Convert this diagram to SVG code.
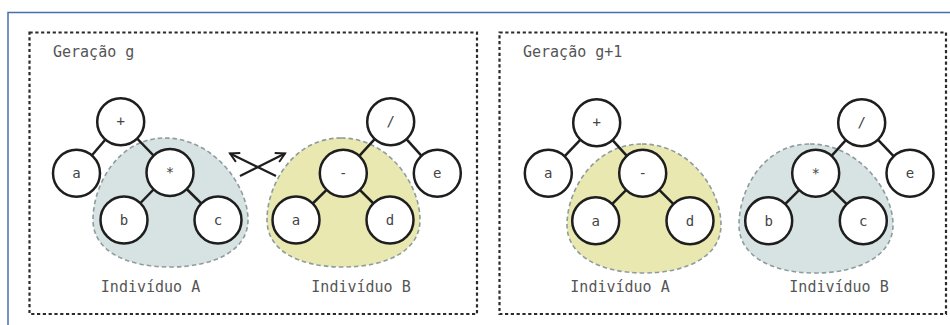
<svg xmlns="http://www.w3.org/2000/svg" width="950" height="325" viewBox="0 0 950 325">
<defs>
<style>
.frame{fill:none;stroke:#4a6db0;stroke-width:1.5}
.box{fill:none;stroke:#2a2a2a;stroke-width:2.2;stroke-dasharray:3.2 2.6}
.title{font-family:"DejaVu Sans Mono","Liberation Mono",monospace;font-size:15px;fill:#555}
.blobA{fill:#d6e3e2;stroke:#8e9c9e;stroke-width:1.6;stroke-dasharray:4.5 3}
.blobB{fill:#e8e8b0;stroke:#8e9c9e;stroke-width:1.6;stroke-dasharray:4.5 3}
.edge{stroke:#1e1e1e;stroke-width:2.5;fill:none}
.node circle{fill:#fff;stroke:#1e1e1e;stroke-width:2.5}
.node text{font-family:"DejaVu Sans Mono","Liberation Mono",monospace;font-size:14px;fill:#444;text-anchor:middle}
.arrow{stroke:#1e1e1e;stroke-width:2.2;fill:none}
</style>
<marker id="ah" viewBox="0 0 12 12" refX="10" refY="6" markerWidth="12" markerHeight="12" markerUnits="userSpaceOnUse" orient="auto">
<path d="M1,1 L10,6 L1,11" fill="none" stroke="#1e1e1e" stroke-width="2"/>
</marker>
<symbol id="none"/>
</defs>
<path class="frame" d="M8,325 V12.5 H950"/>
<g id="box-g">
<rect class="box" x="29.5" y="32.5" width="447.5" height="281.5"/>
<text class="title" x="53" y="57">Geração g</text>
</g>
<g id="box-g1">
<rect class="box" x="499.5" y="32.5" width="446.5" height="281.5"/>
<text class="title" x="523" y="57">Geração g+1</text>
</g>
<g id="blobs">
<path id="blob-g-A" class="blobA" d="M165,138 C213,138 248,185 248,220 C248,250 215,267 170,267 C125,267 93,250 93,220 C93,185 118,138 165,138 Z"/>
<path id="blob-g-B" class="blobB" d="M341,138 C389,138 420,185 420,220 C420,250 388,267 343,267 C298,267 267,250 267,220 C267,185 293,138 341,138 Z"/>
<path id="blob-g1-A" class="blobB" d="M642,144 C690,144 721,190 721,225 C721,255 689,273 644,273 C599,273 567,255 567,225 C567,190 594,144 642,144 Z"/>
<path id="blob-g1-B" class="blobA" d="M810,144 C858,144 893,190 893,225 C893,255 860,273 815,273 C770,273 739,255 739,225 C739,190 763,144 810,144 Z"/>
</g>
<g id="connectors">
<line class="edge" x1="120.7" y1="121.7" x2="76.5" y2="173.3"/>
<line class="edge" x1="120.7" y1="121.7" x2="170" y2="172.5"/>
<line class="edge" x1="170" y1="172.5" x2="124" y2="220"/>
<line class="edge" x1="170" y1="172.5" x2="218" y2="220"/>
<line class="edge" x1="390.7" y1="121.7" x2="343.3" y2="173.3"/>
<line class="edge" x1="390.7" y1="121.7" x2="437.3" y2="173.3"/>
<line class="edge" x1="343.3" y1="173.3" x2="296" y2="220"/>
<line class="edge" x1="343.3" y1="173.3" x2="390" y2="220"/>
<line class="edge" x1="596.7" y1="122.7" x2="548.3" y2="173.3"/>
<line class="edge" x1="596.7" y1="122.7" x2="642.7" y2="173.3"/>
<line class="edge" x1="642.7" y1="173.3" x2="595.7" y2="220.7"/>
<line class="edge" x1="642.7" y1="173.3" x2="690" y2="220.7"/>
<line class="edge" x1="861.7" y1="122.7" x2="815.7" y2="173.3"/>
<line class="edge" x1="861.7" y1="122.7" x2="910" y2="173.3"/>
<line class="edge" x1="815.7" y1="173.3" x2="768.7" y2="220.7"/>
<line class="edge" x1="815.7" y1="173.3" x2="863.3" y2="220.7"/>
<line class="arrow" x1="240" y1="176" x2="285" y2="153.5" marker-end="url(#ah)"/>
<line class="arrow" x1="276" y1="176" x2="230" y2="153.5" marker-end="url(#ah)"/>
</g>
<g id="nodes">
<g id="gA-plus" class="node"><circle cx="120.7" cy="121.7" r="23.5"/><text x="120.7" y="126">+</text></g>
<g id="gA-a" class="node"><circle cx="76.5" cy="173.3" r="23.5"/><text x="76.5" y="178">a</text></g>
<g id="gA-mul" class="node"><circle cx="170" cy="172.5" r="23.5"/><text x="170" y="177">*</text></g>
<g id="gA-b" class="node"><circle cx="124" cy="220" r="23.5"/><text x="124" y="225">b</text></g>
<g id="gA-c" class="node"><circle cx="218" cy="220" r="23.5"/><text x="218" y="225">c</text></g>
<g id="gB-div" class="node"><circle cx="390.7" cy="121.7" r="23.5"/><text x="390.7" y="126">/</text></g>
<g id="gB-minus" class="node"><circle cx="343.3" cy="173.3" r="23.5"/><text x="343.3" y="178">-</text></g>
<g id="gB-e" class="node"><circle cx="437.3" cy="173.3" r="23.5"/><text x="437.3" y="178">e</text></g>
<g id="gB-a" class="node"><circle cx="296" cy="220" r="23.5"/><text x="296" y="225">a</text></g>
<g id="gB-d" class="node"><circle cx="390" cy="220" r="23.5"/><text x="390" y="225">d</text></g>
<g id="g1A-plus" class="node"><circle cx="596.7" cy="122.7" r="23.5"/><text x="596.7" y="127">+</text></g>
<g id="g1A-a" class="node"><circle cx="548.3" cy="173.3" r="23.5"/><text x="548.3" y="178">a</text></g>
<g id="g1A-minus" class="node"><circle cx="642.7" cy="173.3" r="23.5"/><text x="642.7" y="178">-</text></g>
<g id="g1A-a2" class="node"><circle cx="595.7" cy="220.7" r="23.5"/><text x="595.7" y="225.5">a</text></g>
<g id="g1A-d" class="node"><circle cx="690" cy="220.7" r="23.5"/><text x="690" y="225.5">d</text></g>
<g id="g1B-div" class="node"><circle cx="861.7" cy="122.7" r="23.5"/><text x="861.7" y="127">/</text></g>
<g id="g1B-mul" class="node"><circle cx="815.7" cy="173.3" r="23.5"/><text x="815.7" y="178">*</text></g>
<g id="g1B-e" class="node"><circle cx="910" cy="173.3" r="23.5"/><text x="910" y="178">e</text></g>
<g id="g1B-b" class="node"><circle cx="768.7" cy="220.7" r="23.5"/><text x="768.7" y="225.5">b</text></g>
<g id="g1B-c" class="node"><circle cx="863.3" cy="220.7" r="23.5"/><text x="863.3" y="225.5">c</text></g>
</g>
<g id="labels">
<text class="title" x="150.5" y="292" text-anchor="middle">Indivíduo A</text>
<text class="title" x="361" y="292" text-anchor="middle">Indivíduo B</text>
<text class="title" x="620" y="292" text-anchor="middle">Indivíduo A</text>
<text class="title" x="839" y="292" text-anchor="middle">Indivíduo B</text>
</g>
</svg>
